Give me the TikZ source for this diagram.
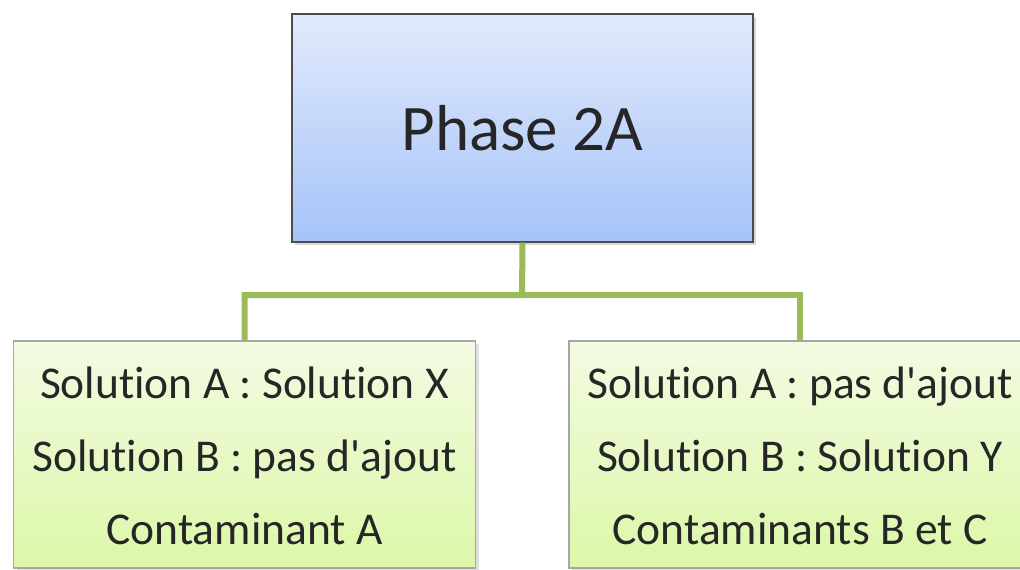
\documentclass[tikz,border=0pt]{standalone}
\usepackage{fontspec}
\setmainfont{Carlito}[Ligatures={NoCommon}]
\usetikzlibrary{shadows}
\definecolor{phasetop}{HTML}{E1EAFC}
\definecolor{phasebot}{HTML}{A6C3F8}
\definecolor{casetop}{HTML}{F3FBE2}
\definecolor{casebot}{HTML}{DCF7A8}
\definecolor{linkgreen}{HTML}{9BBB59}
\begin{document}
\begin{tikzpicture}[x=1pt,y=-1pt]

		\tikzstyle{phase}=[rectangle,
			top color=phasetop,bottom color=phasebot,
			draw=black!70,line width=1.2pt,
			minimum width=461pt,minimum height=228pt,
			drop shadow={shadow xshift=3pt,shadow yshift=-3pt,opacity=0.3},
			font=\fontsize{65}{78}\selectfont,text=black!85,
			align=center,inner sep=0mm]
		\tikzstyle{case}=[rectangle,
			top color=casetop,bottom color=casebot,
			draw=black!35,line width=1.2pt,
			minimum width=462pt,minimum height=227pt,
			drop shadow={shadow xshift=3pt,shadow yshift=-3pt,opacity=0.25},
			font=\fontsize{45.5}{73}\selectfont,text=black!85,
			align=center,inner sep=0mm]
		\tikzstyle{link}=[draw=linkgreen,line width=6pt]

		\useasboundingbox (0,0) rectangle (1020,570);

		\node[phase]	(phase)	at (522.5,128)	{Phase 2A};
		\node[case]	(caseX)	at (244.5,454.5)	{\rule{0pt}{34pt}Solution A : Solution X\\ Solution B : pas d\textquotesingle ajout\\ Contaminant A};
		\node[case]	(caseY)	at (800,454.5)	{\rule{0pt}{34pt}Solution A : pas d\textquotesingle ajout\\ Solution B : Solution Y\\ Contaminants B et C};

		\coordinate (fork) at (522,295);

		\draw[link]	(phase.south)	--	(fork)	-|	(caseX.north);
		\draw[link]	(fork)	-|	(caseY.north);

	\end{tikzpicture}
\end{document}
